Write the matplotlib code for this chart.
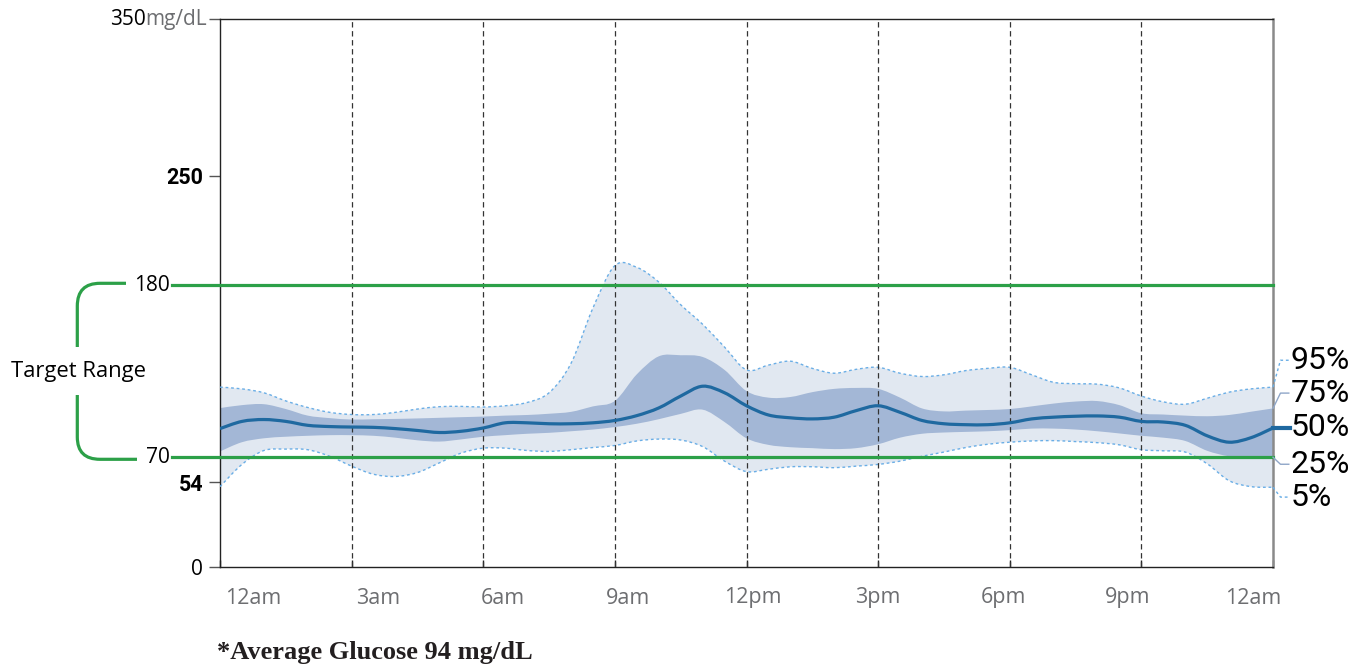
import numpy as np
import matplotlib
matplotlib.use("Agg")
import matplotlib.pyplot as plt
from matplotlib.path import Path
from matplotlib.patches import PathPatch
from matplotlib.transforms import Affine2D

# ---- data (mg/dL), read every half hour from 12am to 12am ----
hours = np.arange(0, 24.5, 0.5)

p95 = [114.8, 113.7, 111.2, 106.0, 101.8, 98.7, 97.3, 97.3, 98.7, 100.8,
       102.3, 102.5, 102.1, 102.9, 105.0, 111.2, 130.0, 165.4, 192.5, 191.4,
       182.0, 167.5, 155.0, 140.4, 125.8, 128.9, 131.4, 126.8, 123.7, 126.2,
       127.5, 123.7, 121.6, 122.7, 125.4, 126.8, 127.5, 122.7, 117.9, 117.0,
       116.7, 114.3, 109.1, 105.4, 103.9, 107.7, 111.6, 113.7, 114.8]
p75 = [101.4, 103.3, 103.9, 100.8, 96.6, 95.0, 94.1, 94.3, 94.5, 94.8,
       95.2, 95.6, 96.0, 96.6, 97.0, 97.8, 99.0, 102.5, 106.0, 123.0,
       134.5, 135.2, 134.1, 125.8, 112.3, 108.1, 108.5, 111.6, 113.7, 114.3,
       113.7, 108.1, 101.2, 99.3, 99.8, 100.2, 100.8, 102.5, 104.3, 105.6,
       105.9, 103.3, 98.1, 97.3, 96.6, 96.2, 97.0, 99.1, 101.2]
p50 = [88.3, 92.9, 94.1, 92.9, 90.4, 89.6, 89.3, 89.1, 88.3, 87.1,
       85.8, 86.6, 88.7, 92.0, 92.0, 91.4, 91.4, 92.0, 93.5, 96.6,
       101.5, 109.1, 115.4, 111.2, 102.9, 97.0, 95.2, 94.5, 95.6, 99.8,
       102.9, 98.7, 93.5, 91.4, 90.8, 90.8, 92.0, 94.5, 95.6, 96.2,
       96.4, 95.6, 92.9, 92.5, 90.4, 83.7, 79.6, 82.5, 88.7]
p25 = [73.7, 79.6, 82.1, 83.1, 83.7, 84.1, 84.1, 83.7, 82.5, 80.8,
       80.0, 81.4, 83.1, 84.1, 85.0, 85.6, 86.6, 87.7, 89.3, 91.4,
       94.3, 97.7, 100.4, 92.5, 82.1, 77.9, 76.4, 75.8, 75.2, 75.8,
       78.3, 82.5, 85.0, 85.8, 86.2, 86.6, 87.3, 88.3, 88.3, 87.7,
       86.6, 85.2, 83.7, 82.5, 80.4, 74.1, 70.6, 70.0, 70.0]
p5 = [51.2, 65.4, 74.3, 75.2, 74.8, 70.6, 64.3, 59.1, 57.7, 60.2,
      66.4, 72.7, 75.8, 75.8, 74.3, 73.7, 74.8, 76.2, 77.5, 80.4,
      81.6, 81.0, 76.8, 67.5, 60.8, 62.3, 63.9, 63.9, 63.3, 64.3,
      65.4, 67.5, 70.6, 73.3, 76.2, 78.3, 79.6, 80.4, 80.6, 80.0,
      79.3, 77.9, 74.8, 74.1, 73.3, 65.8, 55.0, 51.2, 50.8]

target_low, target_high = 70, 180
y_ticks = [0, 54, 250, 350]
time_ticks = list(range(0, 25, 3))
time_labels = ["12am", "3am", "6am", "9am", "12pm", "3pm", "6pm", "9pm", "12am"]
pct_labels = ["95%", "75%", "50%", "25%", "5%"]
avg_glucose = 94


def smooth(x, y):
    """Bezier (Catmull-Rom) vertices through the given points."""
    pts = np.column_stack([x, y]).astype(float)
    p = np.vstack([pts[0], pts, pts[-1]])
    verts, codes = [pts[0]], [Path.MOVETO]
    for i in range(1, len(p) - 2):
        p0, p1, p2, p3 = p[i - 1], p[i], p[i + 1], p[i + 2]
        verts += [p1 + (p2 - p0) / 6, p2 - (p3 - p1) / 6, p2]
        codes += [Path.CURVE4] * 3
    return verts, codes


def band(x, lo, hi):
    v1, c1 = smooth(x, hi)
    v2, c2 = smooth(x[::-1], lo[::-1])
    c2[0] = Path.LINETO
    return Path(v1 + v2 + [v1[0]], c1 + c2 + [Path.CLOSEPOLY])


# ---- layout ----
W, H = 1362, 668
fig = plt.figure(figsize=(W / 100, H / 100), dpi=100)
ax = fig.add_axes([220 / W, 1 - 566.7 / H, (1273 - 220) / W, (566.7 - 19.3) / H])
px = Affine2D().scale(1 / W, -1 / H).translate(0, 1) + fig.transFigure  # pixel coords, y down

sans = "Open Sans"
narrow = "Roboto"

light = "#e1e8f1"
mid = "#a3b7d6"
dark = "#1f69a0"
dot = "#6aaee6"
green = "#2ca048"
grey_txt = "#6d6e71"

ax.set_xlim(0, 24)
ax.set_ylim(0, 350)

ax.add_patch(PathPatch(band(hours, np.array(p5), np.array(p95)), facecolor=light, lw=0, zorder=1))
ax.add_patch(PathPatch(band(hours, np.array(p25), np.array(p75)), facecolor=mid, lw=0, zorder=2))
for series in (p95, p5):
    ax.add_patch(PathPatch(Path(*smooth(hours, series)), fill=False, edgecolor=dot,
                           lw=1, ls=(0, (2, 2)), zorder=3))

for h in time_ticks[1:-1]:
    ax.axvline(h, color="#333333", lw=0.9, ls=(0, (4.3, 2.9)), zorder=4)

# target range lines run out past the left axis
x_start = (172 - 220) / 43.875
for v in (target_low, target_high):
    ax.plot([x_start, 24], [v, v], color=green, lw=2.3, clip_on=False, zorder=5)
    ax.text((170 - 220) / 43.875, v, str(v), ha="right", va="center",
            fontsize=15, family=sans, color="black")

ax.add_patch(PathPatch(Path(*smooth(hours, p50)), fill=False, edgecolor=dark,
                       lw=2.3, capstyle="butt", zorder=6))

# spines / ticks
for s in ("left", "bottom", "top"):
    ax.spines[s].set_color("#222222")
    ax.spines[s].set_linewidth(1)
ax.spines["right"].set_color("#8a8a8a")
ax.spines["right"].set_linewidth(1.8)

ax.set_yticks(y_ticks)
ax.set_yticklabels(["0", "54", "250", ""])
ax.tick_params(axis="y", direction="out", length=8, width=1, color="#555555", pad=4)
for lab in ax.get_yticklabels():
    if lab.get_text() in ("54", "250"):
        lab.set_fontfamily(narrow)
        lab.set_fontweight("bold")
        lab.set_fontsize(15.5)
    else:
        lab.set_fontfamily(sans)
        lab.set_fontsize(15)

ax.set_xticks(time_ticks)
ax.set_xticklabels([""] * len(time_ticks))
ax.tick_params(axis="x", direction="in", length=5, width=1, color="#222222")

for cx, lab in zip(np.linspace(253, 1253, len(time_labels)), time_labels):
    fig.text(cx, 598, lab, transform=px, ha="center", va="center",
             fontsize=15.5, family=sans, color=grey_txt)

# 350 mg/dL label
fig.text(207, 19.3, "mg/dL", transform=px, ha="right", va="center",
         fontsize=15, family=sans, color=grey_txt)
fig.text(146, 19.3, "350", transform=px, ha="right", va="center",
         fontsize=15, family=sans, color="black")

# target range bracket
verts = [(126, 283.3), (100, 283.3), (77.3, 283.3), (77.3, 306), (77.3, 347),
         (77.3, 395), (77.3, 437), (77.3, 459.3), (100, 459.3), (137, 459.3)]
codes = [Path.MOVETO, Path.LINETO, Path.CURVE3, Path.CURVE3, Path.LINETO,
         Path.MOVETO, Path.LINETO, Path.CURVE3, Path.CURVE3, Path.LINETO]
fig.add_artist(PathPatch(Path(verts, codes), transform=px, fill=False,
                         edgecolor=green, lw=2.3, capstyle="butt"))
fig.text(78.5, 371.5, "Target Range", transform=px, ha="center", va="center",
         fontsize=15.8, family=sans, color="black")

# percentile labels on the right
label_y = [132, 111, p50[-1], 65.5, 44.5]
ends = [p95[-1], p75[-1], p50[-1], p25[-1], p5[-1]]
styles = [dict(color=dot, lw=1, ls=(0, (2, 2))),
          dict(color="#8fa6c8", lw=1),
          dict(color=dark, lw=3),
          dict(color="#8fa6c8", lw=1),
          dict(color=dot, lw=1, ls=(0, (2, 2)))]
for lab, ly, ey, st in zip(pct_labels, label_y, ends, styles):
    if lab == "50%":
        ax.plot([24, 24.38], [ey, ly], clip_on=False, zorder=7, **st)
    else:
        ax.plot([24, 24.17, 24.36], [ey, ly, ly], clip_on=False, zorder=7, **st)
    ax.text(24.4, ly, lab, ha="left", va="center", fontsize=23,
            family=narrow, color="black")

fig.text(217, 653, "*Average Glucose %d mg/dL" % avg_glucose, transform=px,
         ha="left", va="center", fontsize=19, family="Liberation Serif",
         fontweight="bold", color="#231f20")

fig.savefig("out.png", dpi=100)
